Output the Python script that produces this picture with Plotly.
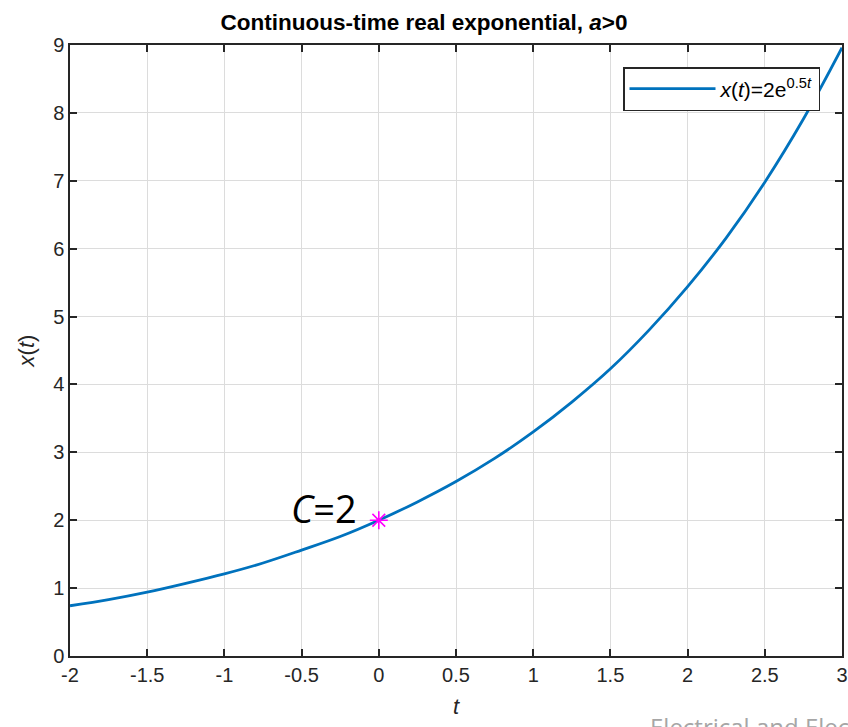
import plotly.graph_objects as go

t_vals = [-2.0, -1.75, -1.5, -1.25, -1.0, -0.75, -0.5, -0.25, 0.0, 0.25, 0.5,
          0.75, 1.0, 1.25, 1.5, 1.75, 2.0, 2.25, 2.5, 2.75, 3.0]
x_vals = [0.74, 0.83, 0.94, 1.07, 1.21, 1.37, 1.56, 1.76, 2.0, 2.27, 2.57,
          2.91, 3.30, 3.74, 4.23, 4.80, 5.44, 6.16, 6.98, 7.91, 8.96]
marker_t = [0.0]
marker_x = [2.0]
x_ticks = [-2, -1.5, -1, -0.5, 0, 0.5, 1, 1.5, 2, 2.5, 3]
x_tick_text = ["-2", "-1.5", "-1", "-0.5", "0", "0.5", "1", "1.5", "2", "2.5", "3"]
y_ticks = [0, 1, 2, 3, 4, 5, 6, 7, 8, 9]

W, H = 848, 727
L, R, T, B = 70, 6, 45, 71
PW, PH = W - L - R, H - T - B
FONT = "Liberation Sans"

fig = go.Figure()
fig.add_trace(go.Scatter(
    x=t_vals, y=x_vals, mode="lines", line=dict(color="#0072BD", width=2.8, shape="spline"),
    name="<i>x</i>(<i>t</i>)=2e<sup>0.5<i>t</i></sup>"))
fig.add_trace(go.Scatter(
    x=marker_t, y=marker_x, mode="markers", showlegend=False,
    marker=dict(symbol="asterisk-open", size=15, color="#FF00FF", line=dict(color="#FF00FF", width=1.6))))

fig.add_annotation(x=0, y=2, xref="x", yref="y", text="<i>C</i>=2", showarrow=False,
                   xanchor="right", yanchor="middle", xshift=-20, yshift=12,
                   font=dict(family="Open Sans", size=38, color="black"))

axis_common = dict(showline=True, linecolor="#262626", linewidth=1.5, mirror="ticks",
                   ticks="inside", ticklen=7, tickwidth=1.5, tickcolor="#262626", showgrid=True,
                   gridcolor="#dcdcdc", gridwidth=1, zeroline=False, automargin=False,
                   tickfont=dict(family=FONT, size=20, color="#262626"))

fig.update_layout(
    width=W, height=H,
    margin=dict(l=L, r=R, t=T, b=B, autoexpand=False),
    plot_bgcolor="white", paper_bgcolor="white",
    title=dict(text="<b>Continuous-time real exponential, <i>a</i>>0</b>", x=0.5,
               xanchor="center", y=1 - 22 / H, yanchor="middle",
               font=dict(family=FONT, size=22.5, color="black")),
    xaxis=dict(range=[-2, 3], tickvals=x_ticks, ticktext=x_tick_text,
               title=dict(text="<i>t</i>", standoff=14,
                          font=dict(family=FONT, size=22, color="#262626")),
               **axis_common),
    yaxis=dict(range=[0, 9], tickvals=y_ticks,
               title=dict(text="<i>x</i>(<i>t</i>)", standoff=12,
                          font=dict(family=FONT, size=22, color="#262626")),
               **axis_common),
    legend=dict(x=(820 - L) / PW, y=1 - (67 - T) / PH, xanchor="right", yanchor="top",
                bordercolor="#262626", borderwidth=1.5, bgcolor="white", itemwidth=86,
                font=dict(family=FONT, size=21, color="black")),
    showlegend=True,
)

fig.add_annotation(x=(648 - L) / PW, y=-(708 - (T + PH)) / PH, xref="paper", yref="paper",
                   yanchor="top", xanchor="left",
                   text="Electrical and Electronics Engineering", showarrow=False,
                   font=dict(family="Open Sans", size=24, color="#a6a6a6"))

fig.write_html("out.html", config={"displayModeBar": False},
               post_script="document.body.style.margin='0px';document.body.style.overflow='hidden';")
